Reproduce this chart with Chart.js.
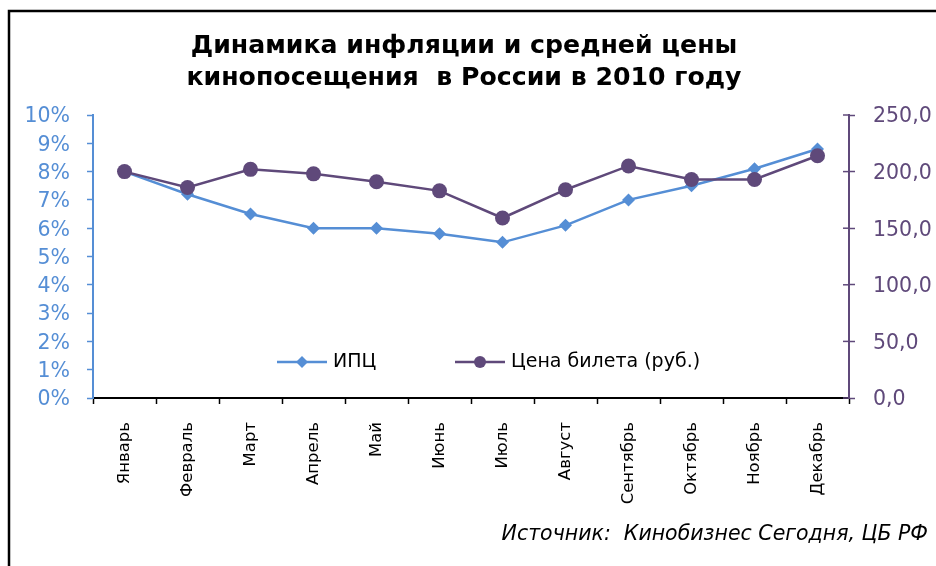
<!DOCTYPE html>
<html>
<head>
<meta charset="utf-8">
<script src="https://cdn.jsdelivr.net/npm/chart.js@4/dist/chart.umd.min.js"></script>
<style>
html,body{margin:0;padding:0;background:#fff;}
#wrap{position:relative;width:936px;height:566px;}
</style>
</head>
<body>
<div id="wrap"><canvas id="c" width="936" height="566"></canvas></div>
<script>
const titleLines = ["Динамика инфляции и средней цены", "кинопосещения  в России в 2010 году"];
const sourceText = "Источник:  Кинобизнес Сегодня, ЦБ РФ";
const months = ["Январь","Февраль","Март","Апрель","Май","Июнь","Июль","Август","Сентябрь","Октябрь","Ноябрь","Декабрь"];
const cpiLabel = "ИПЦ";
const priceLabel = "Цена билета (руб.)";
const cpi = [8.0, 7.2, 6.5, 6.0, 6.0, 5.8, 5.5, 6.1, 7.0, 7.5, 8.1, 8.8];
const price = [200, 186, 202, 198, 191, 183, 159, 184, 205, 193, 193, 214];
const leftTicks = [0,1,2,3,4,5,6,7,8,9,10];
const rightTicks = [0,50,100,150,200,250];

const BLUE = "#558ED5";
const PURPLE = "#5F497A";

const decor = {
  id: "decor",
  beforeDraw(chart) {
    const ctx = chart.ctx;
    ctx.save();
    ctx.fillStyle = "#fff";
    ctx.fillRect(0, 0, chart.width, chart.height);
    ctx.strokeStyle = "#000";
    ctx.lineWidth = 2.5;
    ctx.beginPath();
    ctx.moveTo(9, 566);
    ctx.lineTo(9, 11);
    ctx.lineTo(936, 11);
    ctx.stroke();
    ctx.restore();
  },
  afterDraw(chart) {
    const ctx = chart.ctx;
    const ca = chart.chartArea;
    ctx.save();
    // title
    ctx.fillStyle = "#000";
    ctx.font = "bold 25.2px 'DejaVu Sans'";
    ctx.textAlign = "center";
    ctx.textBaseline = "middle";
    ctx.fillText(titleLines[0], 464, 46);
    ctx.fillText(titleLines[1], 464, 78);
    // right axis inner ticks
    const ry = chart.scales.y1;
    ctx.strokeStyle = PURPLE;
    ctx.lineWidth = 1.5;
    rightTicks.forEach(v => {
      const y = ry.getPixelForValue(v);
      ctx.beginPath();
      ctx.moveTo(ca.right - 6, y);
      ctx.lineTo(ca.right, y);
      ctx.stroke();
    });
    // legend
    const ly = 362;
    ctx.lineWidth = 2.5;
    ctx.strokeStyle = BLUE;
    ctx.beginPath(); ctx.moveTo(277, ly); ctx.lineTo(327, ly); ctx.stroke();
    ctx.fillStyle = BLUE;
    ctx.beginPath();
    ctx.moveTo(302, ly - 6); ctx.lineTo(308, ly); ctx.lineTo(302, ly + 6); ctx.lineTo(296, ly);
    ctx.closePath(); ctx.fill();
    ctx.strokeStyle = PURPLE;
    ctx.beginPath(); ctx.moveTo(455, ly); ctx.lineTo(505, ly); ctx.stroke();
    ctx.fillStyle = PURPLE;
    ctx.beginPath(); ctx.arc(480, ly, 6, 0, Math.PI * 2); ctx.fill();
    ctx.fillStyle = "#000";
    ctx.font = "19px 'DejaVu Sans'";
    ctx.textAlign = "left";
    ctx.fillText(cpiLabel, 333, ly);
    ctx.fillText(priceLabel, 511, ly);
    // source
    ctx.font = "italic 20.5px 'DejaVu Sans'";
    ctx.textAlign = "right";
    ctx.fillText(sourceText, 928, 535);
    ctx.restore();
  }
};

new Chart(document.getElementById("c"), {
  type: "line",
  data: {
    labels: months,
    datasets: [
      {
        label: priceLabel, data: price, yAxisID: "y1", order: 0,
        borderColor: PURPLE, backgroundColor: PURPLE, borderWidth: 2.5,
        pointStyle: "circle", pointRadius: 7.5, pointBackgroundColor: PURPLE, pointBorderWidth: 0,
        tension: 0
      },
      {
        label: cpiLabel, data: cpi, yAxisID: "y", order: 1,
        borderColor: BLUE, backgroundColor: BLUE, borderWidth: 2.5,
        pointStyle: "rectRot", pointRadius: 6.5, pointBackgroundColor: BLUE, pointBorderWidth: 0,
        tension: 0
      }
    ]
  },
  options: {
    responsive: false,
    animation: false,
    devicePixelRatio: 1,
    layout: { padding: { top: 115, left: 0, right: 0, bottom: 0 } },
    plugins: { legend: { display: false }, title: { display: false }, tooltip: { enabled: false } },
    scales: {
      x: {
        offset: true,
        grid: { offset: true, drawOnChartArea: false, color: "#000", tickLength: 6, tickWidth: 1.5 },
        border: { color: "#000", width: 2 },
        ticks: {
          color: "#000", font: { family: "'DejaVu Sans'", size: 16.5 },
          minRotation: 90, maxRotation: 90, padding: 18, autoSkip: false
        },
        afterFit(s) { s.height = 168; }
      },
      y: {
        position: "left", min: 0, max: 10,
        afterBuildTicks(s) { s.ticks = leftTicks.map(v => ({ value: v })); },
        grid: { drawOnChartArea: false, color: BLUE, tickLength: 6, tickWidth: 1.5 },
        border: { color: BLUE, width: 2 },
        ticks: {
          color: BLUE, font: { family: "'DejaVu Sans'", size: 20.5 }, padding: 17, labelOffset: 2,
          callback: v => v + "%"
        },
        afterFit(s) { s.width = 93; }
      },
      y1: {
        position: "right", min: 0, max: 250,
        afterBuildTicks(s) { s.ticks = rightTicks.map(v => ({ value: v })); },
        grid: { drawOnChartArea: false, color: PURPLE, tickLength: 6, tickWidth: 1.5 },
        border: { color: PURPLE, width: 2 },
        ticks: {
          color: PURPLE, font: { family: "'DejaVu Sans'", size: 20.5 }, padding: 18, labelOffset: 2,
          callback: v => v.toFixed(1).replace(".", ",")
        },
        afterFit(s) { s.width = 87; }
      }
    }
  },
  plugins: [decor]
});
</script>
</body>
</html>
